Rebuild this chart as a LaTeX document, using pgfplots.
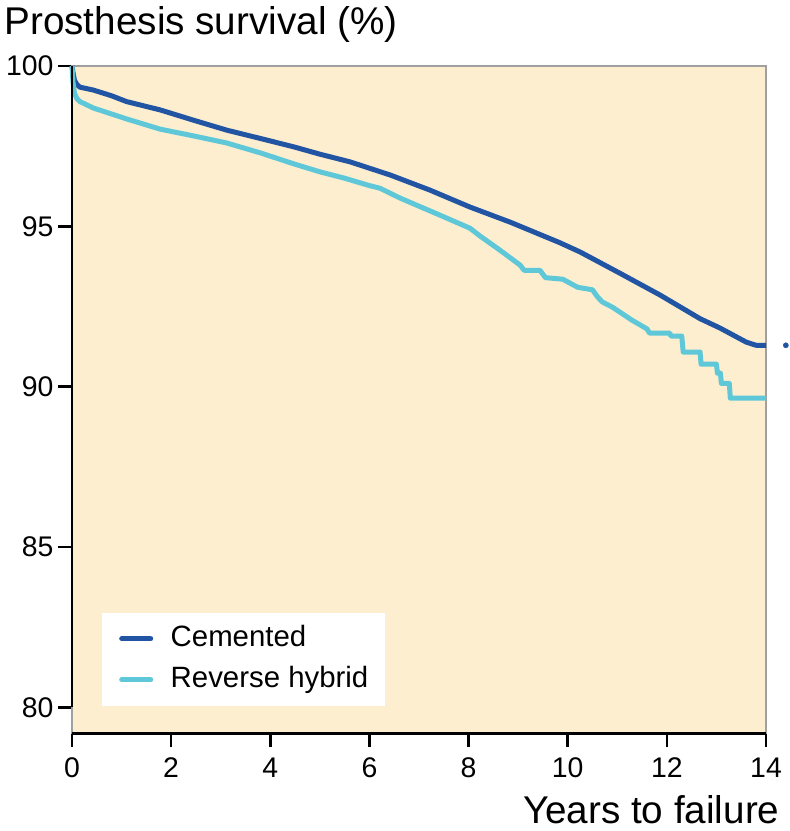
\documentclass[border=0pt]{standalone}
\usepackage{fontspec}
\setmainfont{Liberation Sans}
\usepackage{pgfplots}
\pgfplotsset{compat=1.18}
\definecolor{bgc}{RGB}{253,238,207}
\definecolor{cem}{RGB}{34,84,164}
\definecolor{rev}{RGB}{94,200,216}
\definecolor{frame}{RGB}{160,160,160}
\pgfplotsset{myleg/.style={legend image code/.code={\draw[##1, line cap=round, line width=5bp] (0bp,0bp) -- (29bp,0bp); \path[draw=none] (0bp,0bp) -- (49bp,0bp);}}}
\begin{document}
\begin{tikzpicture}
\useasboundingbox (-72bp,-98bp) rectangle (718bp,733bp);
\begin{axis}[
  at={(0,0)}, anchor=south west,
  scale only axis, width=694bp, height=667bp,
  xmin=0, xmax=14, ymin=79.2, ymax=100,
  clip=false,
  axis background/.style={fill=bgc},
  axis line style={draw=frame, line width=1.2bp},
  xtick={0,2,...,14}, ytick={80,85,90,95,100},
  tick align=outside,
  major tick length=14bp,
  x tick style={black, line width=2.5bp},
  y tick style={black, line width=2.5bp},
  xtick pos=bottom, ytick pos=left,
  /pgf/number format/assume math mode=true,
  tick label style={font=\fontsize{28.5}{30}\selectfont},
  yticklabel style={xshift=-1bp},
  xticklabel style={yshift=-7bp},
  ylabel={Prosthesis survival (\%)},
  every axis y label/.style={at={(rel axis cs:0,1)}, anchor=base west, xshift=-71bp, yshift=31bp, font=\fontsize{38.8}{42}\selectfont},
  xlabel={Years to failure},
  every axis x label/.style={at={(rel axis cs:1,0)}, anchor=base east, xshift=17bp, yshift=-90bp, font=\fontsize{38.8}{42}\selectfont},
  legend style={at={(rel axis cs:0,0)}, anchor=south west, xshift=30bp, yshift=27bp,
    draw=none, fill=white, font=\fontsize{29.5}{32}\selectfont,
    inner xsep=17bp, inner ysep=12bp, row sep=13bp,
    nodes={inner sep=0bp, text height=22bp, text depth=6bp}},
  legend cell align=left,
]
\addplot[cem, line width=5bp, line join=round, myleg] coordinates {
(0,100) (0.02,99.8) (0.05,99.55) (0.1,99.42) (0.16,99.34) (0.43,99.25) (0.8,99.07)
(1.1,98.89) (1.78,98.63) (2.45,98.31) (3.12,98.0) (3.8,97.74) (4.47,97.48) (5.0,97.25)
(5.61,97.01) (6.42,96.6) (7.22,96.13) (8.03,95.6) (8.84,95.13) (9.84,94.49) (10.25,94.2)
(11.05,93.54) (11.86,92.86) (12.67,92.12) (13.07,91.83) (13.6,91.39) (13.8,91.29) (14,91.29)
};
\addlegendentry{Cemented}
\addplot[rev, line width=5bp, line join=round, myleg] coordinates {
(0,100) (0.02,99.5) (0.05,99.15) (0.1,98.98) (0.16,98.89) (0.43,98.69) (1.1,98.35)
(1.78,98.03) (2.45,97.82) (3.12,97.6) (3.8,97.29) (4.47,96.95) (5.0,96.7) (5.5,96.5)
(6.0,96.27) (6.21,96.19) (6.62,95.88) (7.42,95.35) (8.03,94.94) (8.23,94.7) (8.63,94.26)
(9.04,93.79) (9.12,93.63) (9.44,93.63) (9.55,93.4) (9.9,93.35) (10.2,93.1) (10.5,93.02)
(10.6,92.8) (10.7,92.64) (10.9,92.48) (11.3,92.07) (11.6,91.8) (11.65,91.67) (12.06,91.67)
(12.08,91.58) (12.3,91.58) (12.33,91.08) (12.67,91.08) (12.69,90.7) (13.0,90.7)
(13.02,90.42) (13.08,90.42) (13.1,90.1) (13.26,90.1) (13.28,89.64) (14,89.64)
};
\addlegendentry{Reverse hybrid}
\addplot[cem, only marks, mark=*, mark size=2.6bp, forget plot] coordinates {(14.4,91.29)};
\draw[black, line width=2.5bp] (axis cs:0,80) -- (axis cs:0,100);
\draw[black, line width=3bp] (axis cs:0,79.2) -- (axis cs:14,79.2);
\end{axis}
\end{tikzpicture}
\end{document}
